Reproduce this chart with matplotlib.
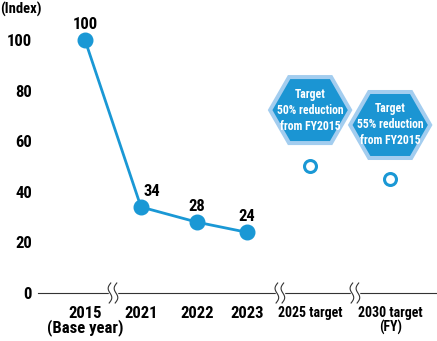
import numpy as np
import matplotlib
matplotlib.use("Agg")
import matplotlib.pyplot as plt
import matplotlib.transforms as mtransforms
from matplotlib.patches import Polygon

plt.rcParams['font.family'] = ['Roboto Condensed', 'Archivo Narrow', 'Barlow Condensed',
                               'Liberation Sans Narrow', 'DejaVu Sans']
plt.rcParams['font.weight'] = 'bold'

# data
years = ['2015', '2021', '2022', '2023']
index_values = [100, 34, 28, 24]
target_names = ['2025 target', '2030 target']
target_values = [50, 45]
target_texts = ['Target\n50% reduction\nfrom FY2015', 'Target\n55% reduction\nfrom FY2015']
tick_labels = ['2015\n(Base year)', '2021', '2022', '2023', '2025 target', '2030 target\n(FY)']
y_ticks = [0, 20, 40, 60, 80, 100]

# layout
xpos = [0, 1, 2, 2.89, 4.02, 5.45]
breaks = [0.5, 3.48, 4.82]
blue = '#1a98d5'
hex_fill = '#1b95d3'
hex_edge = '#a3cdef'

fig = plt.figure(figsize=(4.37, 3.41), dpi=100)
ax = fig.add_axes([38 / 437, 48 / 341, 399 / 437, 293 / 341])
ax.set_xlim(-0.839, 6.286)
ax.set_ylim(0, 115.8)

for s in ['top', 'right', 'left']:
    ax.spines[s].set_visible(False)
ax.spines['bottom'].set_color('#333333')
ax.spines['bottom'].set_linewidth(0.8)

ax.set_yticks(y_ticks)
ax.set_yticklabels([str(v) for v in y_ticks], fontsize=12)
ax.set_xticks(xpos)
ax.set_xticklabels(tick_labels, fontsize=12)
ax.tick_params(axis='both', length=0)
ax.tick_params(axis='y', pad=4.3)
ax.tick_params(axis='x', pad=9)
for i, lab in enumerate(ax.get_xticklabels()):
    lab.set_linespacing(0.9)
    if i >= 4:
        lab.set_fontsize(10)
        lab.set_linespacing(1.05)

# actual values
ax.plot(xpos[:4], index_values, color=blue, lw=2, marker='o', ms=10.5,
        clip_on=False, zorder=5)
for i, v in enumerate(index_values):
    dx = 8 if i == 1 else 0
    ax.annotate(str(v), (xpos[i], v), xytext=(dx, 11.5), textcoords='offset points',
                ha='center', va='center', fontsize=12)

# targets
ax.plot(xpos[4:], target_values, ls='none', marker='o', ms=8.6, mew=2.2,
        mfc='white', mec=blue, zorder=5)

hex_centers = [(xpos[4], 72.3), (xpos[5], 66.4)]
hw, hh, th = 40, 33, 21
hex_verts = np.array([[-hw, 0], [-th, hh], [th, hh], [hw, 0], [th, -hh], [-th, -hh]]) / 100.0
for (cx, cy), txt in zip(hex_centers, target_texts):
    tr = fig.dpi_scale_trans + mtransforms.ScaledTranslation(cx, cy, ax.transData)
    ax.add_patch(Polygon(hex_verts, closed=True, transform=tr, facecolor=hex_fill,
                         edgecolor=hex_edge, lw=2.9, clip_on=False, zorder=3))
    ax.text(cx, cy, txt, ha='center', va='center', color='white', fontsize=8.5,
            linespacing=1.3, zorder=4)

# axis breaks
yy = np.linspace(-10, 10, 40)
for xb in breaks:
    tr = fig.dpi_scale_trans + mtransforms.ScaledTranslation(xb, 0, ax.transData)
    ax.plot(np.array([-3, 3]) / 100.0, [0, 0], color='white', lw=2.5,
            transform=tr, clip_on=False, zorder=3)
    for d in (-3, 3):
        xx = d - 2.2 * np.sin(np.pi * yy / 10) + 0.08 * yy
        ax.plot(xx / 100.0, yy / 100.0, color='#333333', lw=0.8,
                transform=tr, clip_on=False, zorder=4)

fig.text(0.0, 1 - 9 / 341, '(Index)', ha='left', va='center', fontsize=10.5)

fig.savefig('out.png', dpi=100)
